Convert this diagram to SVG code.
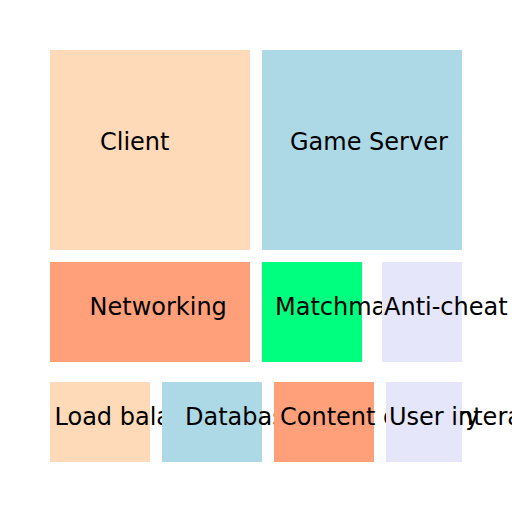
<svg xmlns="http://www.w3.org/2000/svg" width="512" height="512" viewBox="0 0 512 512">
<style>
text{font-family:"DejaVu Sans",sans-serif;font-size:24px;fill:#000}
.peach{fill:#FFDAB9}.blue{fill:#ADD8E6}.salmon{fill:#FFA07A}.green{fill:#00FF7F}.lav{fill:#E6E6FA}
</style>
<rect width="512" height="512" fill="#fff"/>
<g id="client"><rect class="peach" x="50" y="50" width="200" height="200"/><text x="100" y="150">Client</text></g>
<g id="game-server"><rect class="blue" x="262" y="50" width="200" height="200"/><text x="290" y="150">Game Server</text></g>
<g id="networking"><rect class="salmon" x="50" y="262" width="200" height="100"/><text x="89.5" y="315">Networking</text></g>
<g id="matchmaking"><rect class="green" x="262" y="262" width="100" height="100"/><text x="275" y="315">Matchmaking</text></g>
<g id="anti-cheat"><rect class="lav" x="382" y="262" width="80" height="100"/><text x="384" y="315">Anti-cheat</text></g>
<g id="load-balancer"><rect class="peach" x="50" y="382" width="100" height="80"/><text x="54.5" y="425">Load balancer</text></g>
<g id="database"><rect class="blue" x="162" y="382" width="100" height="80"/><text x="185" y="425">Database</text></g>
<g id="content-delivery"><rect class="salmon" x="274" y="382" width="100" height="80"/><text x="280" y="425">Content delivery</text></g>
<g id="user-interface"><rect class="lav" x="386" y="382" width="76" height="80"/><text x="389" y="425">User interaction</text></g>
<g id="connectors"/>
</svg>
